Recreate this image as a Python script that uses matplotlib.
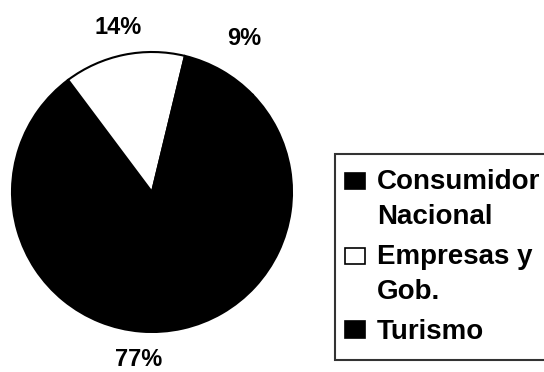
import matplotlib.pyplot as plt
from matplotlib.patches import Patch, Rectangle
from matplotlib.legend_handler import HandlerPatch

plt.rcParams['font.family'] = ['Liberation Sans', 'DejaVu Sans']
plt.rcParams['font.weight'] = 'bold'

segmentos = ["Consumidor\nNacional", "Empresas y\nGob.", "Turismo"]
porcentajes = [77, 14, 9]
colores = ["black", "white", "black"]

fig = plt.figure(figsize=(5.44, 3.72), dpi=100)
fig.patch.set_facecolor("white")

# pie axes, square, on the left half
ax = fig.add_axes([12 / 544, 40 / 372, 280 / 544, 280 / 372])
wedges, textos, pct = ax.pie(
    porcentajes, colors=colores, startangle=44, counterclock=False,
    autopct="%.0f%%", pctdistance=1.2,
    wedgeprops=dict(edgecolor="black", linewidth=1.5),
    textprops=dict(fontsize=17, fontweight="bold"))
for w in wedges:
    w.set_clip_on(False)
# nudge the small slice label outwards a bit
x, y = pct[2].get_position()
pct[2].set_position((x * 1.1, y * 1.05))
ax.set_xlim(-1, 1)
ax.set_ylim(-1, 1)
ax.set_aspect("equal")
ax.axis("off")


def caja_arriba(nlineas):
    # square marker next to the first line of a multi-line label
    def f(legend, orig_handle, xdescent, ydescent, width, height, fontsize):
        dy = (nlineas - 1) * fontsize * 0.68
        return Rectangle((-xdescent - 3.6, -ydescent + dy), width, height)
    return HandlerPatch(patch_func=f)


handles = [Patch(facecolor=c, edgecolor="black", linewidth=1.2) for c in colores]
hmap = {h: caja_arriba(s.count("\n") + 1) for h, s in zip(handles, segmentos)}
leg = fig.legend(handles, segmentos, loc="upper left", handler_map=hmap,
                 bbox_to_anchor=(335 / 544, 1 - 154 / 372),
                 frameon=True, fancybox=False, edgecolor="black",
                 prop=dict(size=20, weight="bold"),
                 handlelength=0.7, handleheight=0.55, handletextpad=0.27,
                 borderpad=0.55, labelspacing=0.5, borderaxespad=0)
leg.get_frame().set_linewidth(1.5)
for t in leg.get_texts():
    t.set_linespacing(1.45)

fig.savefig("out.png", dpi=100)
